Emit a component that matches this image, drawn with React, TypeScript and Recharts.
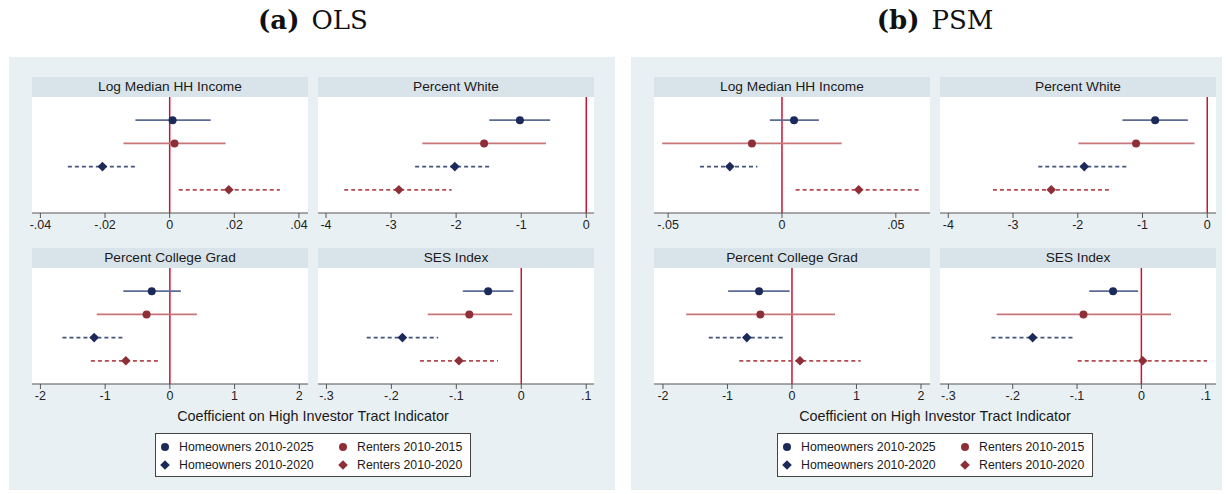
import React from "react";
import { ScatterChart, Scatter, XAxis, YAxis, ReferenceLine } from "recharts";

// outcome panels, top-left, top-right, bottom-left, bottom-right
const outcomes = ["Log Median HH Income", "Percent White", "Percent College Grad", "SES Index"];

// series, in the order they are stacked top to bottom
const seriesNames = ["Homeowners 2010-2025", "Renters 2010-2015", "Homeowners 2010-2020", "Renters 2010-2020"];
const seriesRows = [1, 2, 3, 4];

// OLS coefficients and 95% CI (per outcome, per series)
const olsEst = [
  [0.0009, 0.0015, -0.0208, 0.0183],
  [-1.02, -1.57, -2.02, -2.88],
  [-0.28, -0.36, -1.17, -0.68],
  [-0.051, -0.08, -0.183, -0.096],
];
const olsLow = [
  [-0.0106, -0.0143, -0.0315, 0.0028],
  [-1.49, -2.52, -2.63, -3.72],
  [-0.72, -1.13, -1.66, -1.22],
  [-0.09, -0.144, -0.238, -0.156],
];
const olsHigh = [
  [0.0127, 0.0173, -0.0101, 0.0341],
  [-0.555, -0.62, -1.45, -2.07],
  [0.17, 0.417, -0.695, -0.14],
  [-0.012, -0.014, -0.128, -0.036],
];

// PSM coefficients and 95% CI
const psmEst = [
  [0.0053, -0.0132, -0.0229, 0.0337],
  [-0.805, -1.1, -1.9, -2.41],
  [-0.51, -0.49, -0.7, 0.124],
  [-0.044, -0.09, -0.169, 0.002],
];
const psmLow = [
  [-0.0053, -0.0526, -0.036, 0.006],
  [-1.31, -1.99, -2.61, -3.31],
  [-0.99, -1.64, -1.29, -0.817],
  [-0.081, -0.225, -0.233, -0.099],
];
const psmHigh = [
  [0.0162, 0.0262, -0.0108, 0.0602],
  [-0.3, -0.197, -1.22, -1.52],
  [-0.036, 0.667, -0.108, 1.065],
  [-0.005, 0.046, -0.107, 0.102],
];

// x tick values
const olsTicks = [
  [-0.04, -0.02, 0, 0.02, 0.04],
  [-4, -3, -2, -1, 0],
  [-2, -1, 0, 1, 2],
  [-0.3, -0.2, -0.1, 0, 0.1],
];
const psmTicks = [
  [-0.05, 0, 0.05],
  [-4, -3, -2, -1, 0],
  [-2, -1, 0, 1, 2],
  [-0.3, -0.2, -0.1, 0, 0.1],
];

// axis ranges
const olsDomains = [
  [-0.0426, 0.0428],
  [-4.123, 0.119],
  [-2.13, 2.134],
  [-0.313, 0.112],
];
const psmDomains = [
  [-0.0562, 0.065],
  [-4.128, 0.135],
  [-2.139, 2.14],
  [-0.313, 0.116],
];

const SANS = '"Liberation Sans", Arial, Helvetica, sans-serif';
const markerColors = ["#1c2a5a", "#8e2f38", "#1c2a5a", "#8e2f38"];
const lineColors = ["#5d6b93", "#c7767a", "#45537d", "#b34b51"];
const dashes = [undefined, undefined, "4 3", "4 3"];
const shapes = ["circle", "circle", "diamond", "diamond"];

const fmtTick = (v: number) => {
  if (v === 0) return "0";
  return String(v).replace("0.", ".");
};

const makeMarker = (kind: string, color: string) => (props: any) => {
  const { cx, cy } = props;
  if (kind === "circle") return <circle cx={cx} cy={cy} r={4} fill={color} />;
  const d = 4.8;
  return (
    <polygon
      points={`${cx},${cy - d} ${cx + d},${cy} ${cx},${cy + d} ${cx - d},${cy}`}
      fill={color}
    />
  );
};

const noShape = () => <g />;

const PLOT_W = 276;
const PLOT_H = 116;
const PAD = 12;

function Subplot({ title, est, low, high, ticks, domain, left, top, yLine }: any) {
  return (
    <div style={{ position: "absolute", left, top }}>
      <div
        style={{
          width: PLOT_W,
          height: 20,
          background: "#d9e4ea",
          textAlign: "center",
          fontSize: 13.7,
          lineHeight: "20px",
          color: "#1a1a1a",
        }}
      >
        {title}
      </div>
      <div style={{ position: "absolute", left: 0, top: 20, width: PLOT_W, height: PLOT_H, background: "#fff" }} />
      <div style={{ position: "absolute", left: -PAD, top: 20 }}>
        <ScatterChart
          width={PLOT_W + PAD * 2}
          height={PLOT_H + 24}
          margin={{ top: 0, right: PAD, bottom: 0, left: PAD }}
        >
          <XAxis
            type="number"
            dataKey="x"
            domain={domain}
            allowDataOverflow
            ticks={ticks}
            interval={0}
            tickFormatter={fmtTick}
            height={24}
            tickSize={5}
            tick={{ fontSize: 12.5, fill: "#222", fontFamily: SANS }}
            tickLine={{ stroke: "#555" }}
            axisLine={{ stroke: "#555" }}
          />
          <YAxis
            type="number"
            dataKey="y"
            domain={[0, 5]}
            reversed
            allowDataOverflow
            width={0}
            tick={false}
            tickLine={false}
            axisLine={yLine ? { stroke: "#555" } : false}
          />
          <ReferenceLine x={0} stroke="#cc1236" strokeWidth={1.5} />
          {seriesRows.map((row, i) => (
            <Scatter
              key={"ci" + i}
              data={[
                { x: low[i], y: row },
                { x: high[i], y: row },
              ]}
              line={{ stroke: lineColors[i], strokeWidth: 1.7, strokeDasharray: dashes[i] }}
              shape={noShape}
              isAnimationActive={false}
            />
          ))}
          {seriesRows.map((row, i) => (
            <Scatter
              key={"pt" + i}
              data={[{ x: est[i], y: row }]}
              shape={makeMarker(shapes[i], markerColors[i])}
              isAnimationActive={false}
            />
          ))}
        </ScatterChart>
      </div>
    </div>
  );
}

function LegendBox({ left, top }: any) {
  const cells = [0, 2, 1, 3];
  return (
    <div
      style={{
        position: "absolute",
        left,
        top,
        width: 314,
        height: 42,
        background: "#fff",
        border: "1px solid #444",
        fontSize: 12.3,
        color: "#1a1a1a",
      }}
    >
      {cells.map((s, k) => {
        const col = Math.floor(k / 2);
        const row = k % 2;
        const mx = col === 0 ? 9 : 187;
        const my = row === 0 ? 13 : 31;
        return (
          <div key={s}>
            <svg style={{ position: "absolute", left: mx - 6, top: my - 6 }} width={12} height={12}>
              {shapes[s] === "circle" ? (
                <circle cx={6} cy={6} r={4} fill={markerColors[s]} />
              ) : (
                <polygon points="6,1.2 10.8,6 6,10.8 1.2,6" fill={markerColors[s]} />
              )}
            </svg>
            <div style={{ position: "absolute", left: mx + 14, top: my - 8, lineHeight: "16px", whiteSpace: "nowrap" }}>
              {seriesNames[s]}
            </div>
          </div>
        );
      })}
    </div>
  );
}

function Panel({ label, name, est, low, high, ticks, domains, bgLeft, bgWidth, cols }: any) {
  const rowsTop = [77, 248];
  const mid = (cols[0] + cols[1] + PLOT_W) / 2;
  return (
    <>
      <div
        style={{
          position: "absolute",
          left: mid - 150,
          top: 5,
          width: 300,
          textAlign: "center",
          fontFamily: '"DejaVu Serif", "Liberation Serif", serif',
          fontSize: 26,
          color: "#111",
        }}
      >
        <b>({label})</b>
        <span style={{ marginLeft: 12 }}>{name}</span>
      </div>
      <div style={{ position: "absolute", left: bgLeft, top: 57, width: bgWidth, height: 433, background: "#e9f0f3" }} />
      {outcomes.map((t, i) => (
        <Subplot
          key={t}
          title={t}
          est={est[i]}
          low={low[i]}
          high={high[i]}
          ticks={ticks[i]}
          domain={domains[i]}
          left={cols[i % 2]}
          top={rowsTop[Math.floor(i / 2)]}
          yLine={i % 2 === 0}
        />
      ))}
      <div
        style={{
          position: "absolute",
          left: mid - 200,
          top: 408,
          width: 400,
          textAlign: "center",
          fontSize: 14.4,
          color: "#1a1a1a",
        }}
      >
        Coefficient on High Investor Tract Indicator
      </div>
      <LegendBox left={mid - 158} top={433} />
    </>
  );
}

export default function App() {
  return (
    <div
      style={{
        position: "fixed",
        left: 0,
        top: 0,
        width: 1226,
        height: 494,
        background: "#fff",
        fontFamily: SANS,
        overflow: "hidden",
      }}
    >
      <Panel
        label="a"
        name="OLS"
        est={olsEst}
        low={olsLow}
        high={olsHigh}
        ticks={olsTicks}
        domains={olsDomains}
        bgLeft={9}
        bgWidth={606}
        cols={[32, 318]}
      />
      <Panel
        label="b"
        name="PSM"
        est={psmEst}
        low={psmLow}
        high={psmHigh}
        ticks={psmTicks}
        domains={psmDomains}
        bgLeft={631}
        bgWidth={591}
        cols={[654, 940]}
      />
    </div>
  );
}
